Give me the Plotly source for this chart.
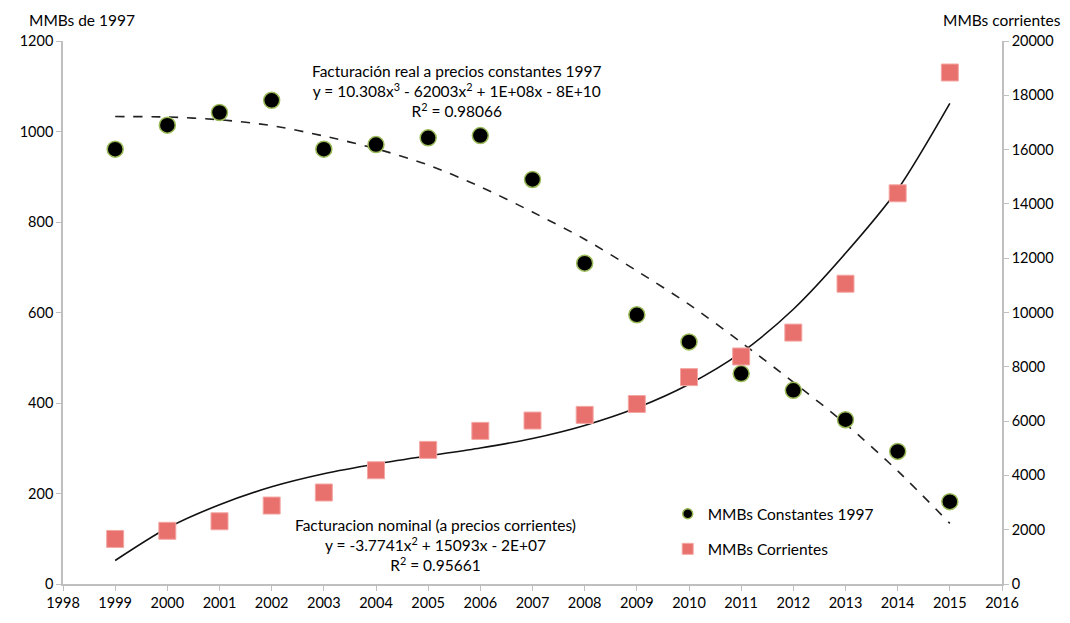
import plotly.graph_objects as go

# Años y series
years = [1999, 2000, 2001, 2002, 2003, 2004, 2005, 2006, 2007,
         2008, 2009, 2010, 2011, 2012, 2013, 2014, 2015]
mmbs_constantes_1997 = [961, 1014, 1042, 1069, 961, 971, 986, 991, 894,
                        709, 595, 535, 465, 428, 363, 293, 182]
mmbs_corrientes = [1660, 1960, 2310, 2890, 3370, 4190, 4940, 5640, 6020,
                   6230, 6630, 7620, 8380, 9260, 11060, 14390, 18840]

# Líneas de tendencia (valores por año)
tendencia_constantes = [1033, 1032, 1026, 1013, 990, 962, 926, 878, 822,
                        762, 692, 618, 534, 446, 354, 250, 134]
tendencia_corrientes = [865, 2060, 2920, 3580, 4060, 4420, 4720, 5010, 5360,
                        5840, 6490, 7360, 8520, 10120, 12180, 14530, 17700]

left_ticks = [0, 200, 400, 600, 800, 1000, 1200]
right_ticks = [0, 2000, 4000, 6000, 8000, 10000, 12000, 14000, 16000, 18000, 20000]
x_ticks = list(range(1998, 2017))

FONT = "Lato"
axis_line = "#BFBFBF"
tick_font = dict(family=FONT, size=14.5, color="#000000")

circle_marker = dict(symbol="circle", color="#000000", line=dict(color="#9BBB59", width=1.5))
square_marker = dict(symbol="square", color="#E8716E", line=dict(color="#F4A7A3", width=1))

fig = go.Figure()

fig.add_trace(go.Scatter(
    x=years, y=tendencia_constantes, mode="lines", yaxis="y",
    line=dict(color="#222222", width=1.6, dash="dash", shape="spline", smoothing=0.8),
    showlegend=False, hoverinfo="skip"))
fig.add_trace(go.Scatter(
    x=years, y=tendencia_corrientes, mode="lines", yaxis="y2",
    line=dict(color="#111111", width=1.6, shape="spline", smoothing=0.8),
    showlegend=False, hoverinfo="skip"))

fig.add_trace(go.Scatter(
    x=years, y=mmbs_constantes_1997, mode="markers", yaxis="y",
    name="MMBs Constantes 1997", showlegend=False,
    marker=dict(size=16, **circle_marker)))
fig.add_trace(go.Scatter(
    x=years, y=mmbs_corrientes, mode="markers", yaxis="y2",
    name="MMBs Corrientes", showlegend=False,
    marker=dict(size=17, **square_marker)))

# Entradas de la leyenda con marcadores más pequeños
fig.add_trace(go.Scatter(
    x=[None], y=[None], mode="markers", name="MMBs Constantes 1997",
    legendgroup="a", marker=dict(size=10, **circle_marker)))
fig.add_trace(go.Scatter(
    x=[None], y=[None], mode="markers", name="MMBs Corrientes",
    legendgroup="b", marker=dict(size=11, **square_marker)))

fig.update_layout(
    width=1070, height=623,
    margin=dict(l=63, r=68, t=41, b=30),
    paper_bgcolor="white", plot_bgcolor="white",
    font=dict(family=FONT, size=14, color="#000000"),
    xaxis=dict(range=[1998, 2016], tickvals=x_ticks, ticktext=[str(t) for t in x_ticks],
               showgrid=False, zeroline=False, showline=True, linecolor=axis_line,
               linewidth=1.5, ticks="outside", ticklen=5, tickcolor=axis_line,
               tickfont=tick_font),
    yaxis=dict(range=[0, 1200], tickvals=left_ticks, ticktext=[str(t) for t in left_ticks],
               showgrid=False, zeroline=False, showline=True, linecolor=axis_line,
               linewidth=1.5, ticks="outside", ticklen=5, tickcolor=axis_line,
               tickfont=tick_font),
    yaxis2=dict(range=[0, 20000], tickvals=right_ticks, ticktext=[str(t) for t in right_ticks],
                overlaying="y", side="right", showgrid=False, zeroline=False,
                showline=True, linecolor=axis_line, linewidth=1.5, ticks="outside",
                ticklen=5, tickcolor=axis_line, tickfont=tick_font),
    legend=dict(x=0.644, y=0.16, xanchor="left", yanchor="top",
                bgcolor="rgba(0,0,0,0)", font=dict(family=FONT, size=15.5),
                traceorder="grouped", tracegroupgap=12, itemwidth=30),
    showlegend=True,
)

fig.add_annotation(text="MMBs de 1997", xref="paper", yref="paper", x=-0.038, y=1.038,
                   xanchor="left", yanchor="middle", showarrow=False,
                   font=dict(family=FONT, size=15.5))
fig.add_annotation(text="MMBs corrientes", xref="paper", yref="paper", x=1.065, y=1.038,
                   xanchor="right", yanchor="middle", showarrow=False,
                   font=dict(family=FONT, size=15.5))

fig.add_annotation(
    text="Facturación real a precios constantes 1997<br>"
         "y = 10.308x<sup>3</sup> - 62003x<sup>2</sup> + 1E+08x - 8E+10<br>"
         "R<sup>2</sup> = 0.98066",
    xref="x", yref="y", x=2005.55, y=1158, xanchor="center", yanchor="top",
    showarrow=False, align="center", font=dict(family=FONT, size=15.5))
fig.add_annotation(
    text="Facturacion nominal (a precios corrientes)<br>"
         "y = -3.7741x<sup>2</sup> + 15093x - 2E+07<br>"
         "R<sup>2</sup> = 0.95661",
    xref="x", yref="y", x=2005.15, y=155, xanchor="center", yanchor="top",
    showarrow=False, align="center", font=dict(family=FONT, size=15.5))

fig.write_html("out.html")
